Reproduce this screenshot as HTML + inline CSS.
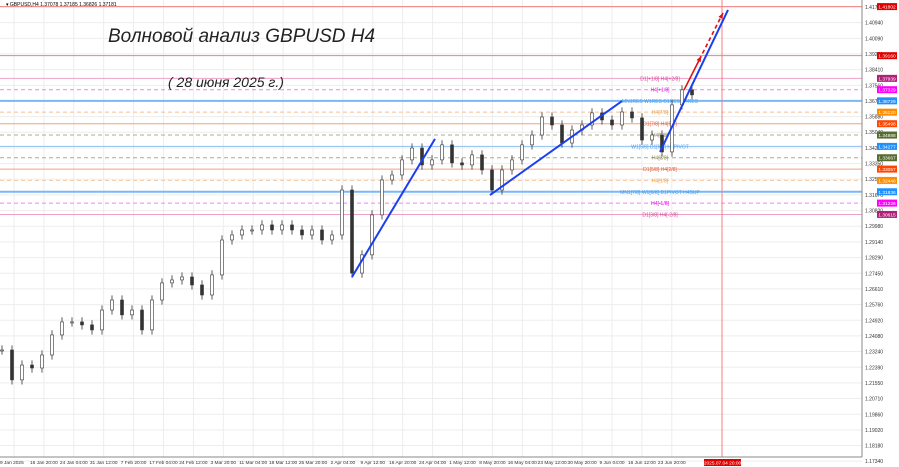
<!DOCTYPE html>
<html><head><meta charset="utf-8">
<style>
html,body{margin:0;padding:0;background:#fff;}
svg{display:block;font-family:"Liberation Sans",sans-serif;}
</style></head>
<body>
<svg id="chart" width="899" height="467" viewBox="0 0 899 467">
  <rect x="0" y="0" width="899" height="467" fill="#fff"/>
  <g id="grid"></g>
  <g id="levels"></g>
  <g id="candles"></g>
  <g id="waves"></g>
  <g id="axes"></g>
  <text x="6" y="6" font-size="5" fill="#000">▾ GBPUSD,H4  1.37078 1.37185 1.36826 1.37181</text>
  <text x="108" y="42" font-size="19" font-style="italic" fill="#222">Волновой анализ GBPUSD H4</text>
  <text x="168" y="87" font-size="14" font-style="italic" fill="#222">( 28 июня 2025 г.)</text>
</svg>
<script>
const priceTicks=[1.41780,1.40940,1.40090,1.39250,1.38410,1.37560,1.36720,1.35880,1.35040,1.34200,1.33350,1.32510,1.31670,1.30820,1.29980,1.29140,1.28290,1.27450,1.26610,1.25760,1.24920,1.24080,1.23240,1.22390,1.21550,1.20710,1.19860,1.19020,1.18180,1.17340];
const dateLabels=["9 Jan 2025","16 Jan 20:00","24 Jan 04:00","31 Jan 12:00","7 Feb 20:00","17 Feb 04:00","24 Feb 12:00","3 Mar 20:00","11 Mar 04:00","18 Mar 12:00","25 Mar 20:00","2 Apr 04:00","9 Apr 12:00","16 Apr 20:00","24 Apr 04:00","1 May 12:00","8 May 20:00","16 May 04:00","23 May 12:00","30 May 20:00","9 Jun 04:00","16 Jun 12:00","23 Jun 20:00"];
const closes=[1.2332,1.2171,1.2251,1.2235,1.2305,1.2413,1.2483,1.2483,1.2467,1.2440,1.2547,1.2601,1.2521,1.2547,1.2440,1.2601,1.2693,1.2709,1.2725,1.2682,1.2628,1.2736,1.2924,1.2951,1.2978,1.2978,1.3005,1.2978,1.3005,1.2978,1.2951,1.2978,1.2924,1.2951,1.3193,1.2746,1.2844,1.3059,1.3247,1.3274,1.3355,1.3419,1.3328,1.3355,1.3436,1.3339,1.3328,1.3382,1.3301,1.3193,1.3301,1.3355,1.3436,1.3489,1.3586,1.3543,1.3446,1.3516,1.3543,1.3608,1.3570,1.3543,1.3613,1.3581,1.3462,1.3489,1.3398,1.3651,1.3732,1.3705];
const levelPrices=[1.41802,1.39160,1.37939,1.37329,1.36729,1.36120,1.35498,1.34888,1.34277,1.33667,1.33057,1.32446,1.31836,1.31226,1.30615];
const levelColors=["#f08080","#f08080","#f0a0c8","#ee88ee","#7ab8f5","#f5c090","#f5a080","#b0a890","#90c0f0","#b0a890","#f5a080","#f5c8a0","#7ab8f5","#ee88ee","#f0a0c8"];
const tagColors=["#e00000","#e00000","#b0207a","#ff00ff","#1e90ff","#ff8c00","#ff4500","#556b2f","#1e90ff","#556b2f","#ff4500","#ff8c00","#1e90ff","#ff00ff","#b0207a"];
const levelDashed=[false,false,false,true,false,true,false,true,false,true,false,true,false,true,false];
const levelWidth=[1,1,1,1,2,1,1,1,1,1,1,1,2,1,1];
const levelNames=["","","D1[+1/8] H4[+2/8]","H4[+1/8]","MN1RES W1RES D1RES H4RES","H4[7/8]","D1[7/8] H4[6/8]","H4[5/8]","W1[5/8] D1[6/8] H4PIVOT","H4[3/8]","D1[5/8] H4[2/8]","H4[1/8]","MN1[7/8] W1[6/8] D1PIVOT H4SUP","H4[-1/8]","D1[3/8] H4[-2/8]"];
const levelTextColors=["","","#d04090","#ee00ee","#4aa0f0","#f0a040","#e06040","#8a8a50","#4aa0f0","#8a8a50","#e06040","#f0a040","#4aa0f0","#ee00ee","#d04090"];
// wave annotation endpoints (bar index, price)
const waveIdx=[[35,43.3],[48.8,62],[65.8,72.6]];
const wavePrice=[[1.2725,1.3468],[1.3166,1.3672],[1.3398,1.4162]];
const arrowIdx=[68.2,72.1];
const arrowPrice=[1.3731,1.4146];

const NS="http://www.w3.org/2000/svg";
const PL=0,PR=862,PT=0,PB=457;
function y(p){return 7+(1.41780-p)*1858;}
function xi(i){return 2+i*10;}
function xd(i){return 14+i*29.9;}
function mk(tag,attrs,parent){const e=document.createElementNS(NS,tag);for(const k in attrs)e.setAttribute(k,attrs[k]);parent.appendChild(e);return e;}
const grid=document.getElementById('grid'),lev=document.getElementById('levels'),cg=document.getElementById('candles'),wg=document.getElementById('waves'),ax=document.getElementById('axes');

priceTicks.forEach((p)=>{
  const l=mk('line',{x1:PL,x2:PR,y1:y(p),y2:y(p),stroke:'#ededed','stroke-width':1},grid);
  
  
  const t=mk('text',{x:865,y:y(p)+2,'font-size':5,fill:'#333'},ax);
  t.textContent=p.toFixed(5);
  
  
});
dateLabels.forEach((d,i)=>{
  const x=xd(i);
  const l=mk('line',{x1:x,x2:x,y1:PT,y2:PB,stroke:'#ededed','stroke-width':1},grid);
  
  
  const t=mk('text',{x:i===0?0:x,y:464,'font-size':4.8,fill:'#333','text-anchor':i===0?'start':'middle'},ax);
  t.textContent=d;
  
  
});

levelPrices.forEach((p,i)=>{
  const a={x1:PL,x2:PR,y1:y(p),y2:y(p),stroke:levelColors[i],'stroke-width':levelWidth[i]};
  if(levelDashed[i])a['stroke-dasharray']='4,3';
  const l=mk('line',a,lev);
  
  
  if(levelNames[i]){
    const t=mk('text',{x:660,y:y(p)+2,'font-size':5,fill:levelTextColors[i],'text-anchor':'middle'},lev);
    t.textContent=levelNames[i];
    
    
  }
  const r=mk('rect',{x:877,y:y(p)-3.5,width:20,height:7,fill:tagColors[i]},ax);
  
  
  const t2=mk('text',{x:887,y:y(p)+2,'font-size':4.8,fill:'#fff','text-anchor':'middle'},ax);
  t2.textContent=p.toFixed(5);
  
  
});

const vl=mk('line',{x1:722,x2:722,y1:0,y2:PB,stroke:'#f08080','stroke-width':1},lev);


const dr=mk('rect',{x:704,y:459,width:37,height:7,fill:'#e00000'},ax);


const dt=mk('text',{x:722.5,y:464.5,'font-size':4.8,fill:'#fff','text-anchor':'middle'},ax);
dt.textContent='2025.07.04 20:00';



closes.forEach((c,i)=>{
  const o=i>0?closes[i-1]:c;
  const hi=Math.max(o,c)+0.0025, lo=Math.min(o,c)-0.0025;
  const x=xi(i);
  const w=mk('line',{x1:x,x2:x,y1:y(hi),y2:y(lo),stroke:'#333','stroke-width':0.8},cg);
  
  
  const top=y(Math.max(o,c)),h=Math.max(1,Math.abs(y(o)-y(c)));
  const b=mk('rect',{x:x-1.5,y:top,width:3,height:h,fill:c>=o?'#fff':'#333',stroke:'#333','stroke-width':0.6},cg);
  
  
});

waveIdx.forEach((w,i)=>{
  const l=mk('line',{x1:xi(w[0]),y1:y(wavePrice[i][0]),x2:xi(w[1]),y2:y(wavePrice[i][1]),stroke:'#1a3ff0','stroke-width':2},wg);
  
  
});
const ax0=xi(arrowIdx[0]),ay0=y(arrowPrice[0]),ax1=xi(arrowIdx[1]),ay1=y(arrowPrice[1]);
const mx=ax0+(ax1-ax0)*0.44,my=ay0+(ay1-ay0)*0.44;
const ang=Math.atan2(ay1-ay0,ax1-ax0);
const s1=mk('line',{x1:ax0,y1:ay0,x2:mx,y2:my,stroke:'#e01010','stroke-width':1.6},wg);


const s2=mk('line',{x1:mx+3*Math.cos(ang),y1:my+3*Math.sin(ang),x2:ax1,y2:ay1,stroke:'#e01010','stroke-width':1.6,'stroke-dasharray':'4,3'},wg);


function head(px,py,name){
  const p1=[px-6*Math.cos(ang-0.4),py-6*Math.sin(ang-0.4)],p2=[px-6*Math.cos(ang+0.4),py-6*Math.sin(ang+0.4)];
  const h=mk('polygon',{points:`${px},${py} ${p1} ${p2}`,fill:'#e01010'},wg);
  
  
}
head(mx,my,'forecast-arrowhead-1');
head(ax1,ay1,'forecast-arrowhead-2');

const f1=mk('line',{x1:PR,x2:PR,y1:0,y2:PB,stroke:'#888','stroke-width':1},ax);


const f2=mk('line',{x1:0,x2:PR,y1:PB,y2:PB,stroke:'#888','stroke-width':1},ax);


</script>
</body></html>
